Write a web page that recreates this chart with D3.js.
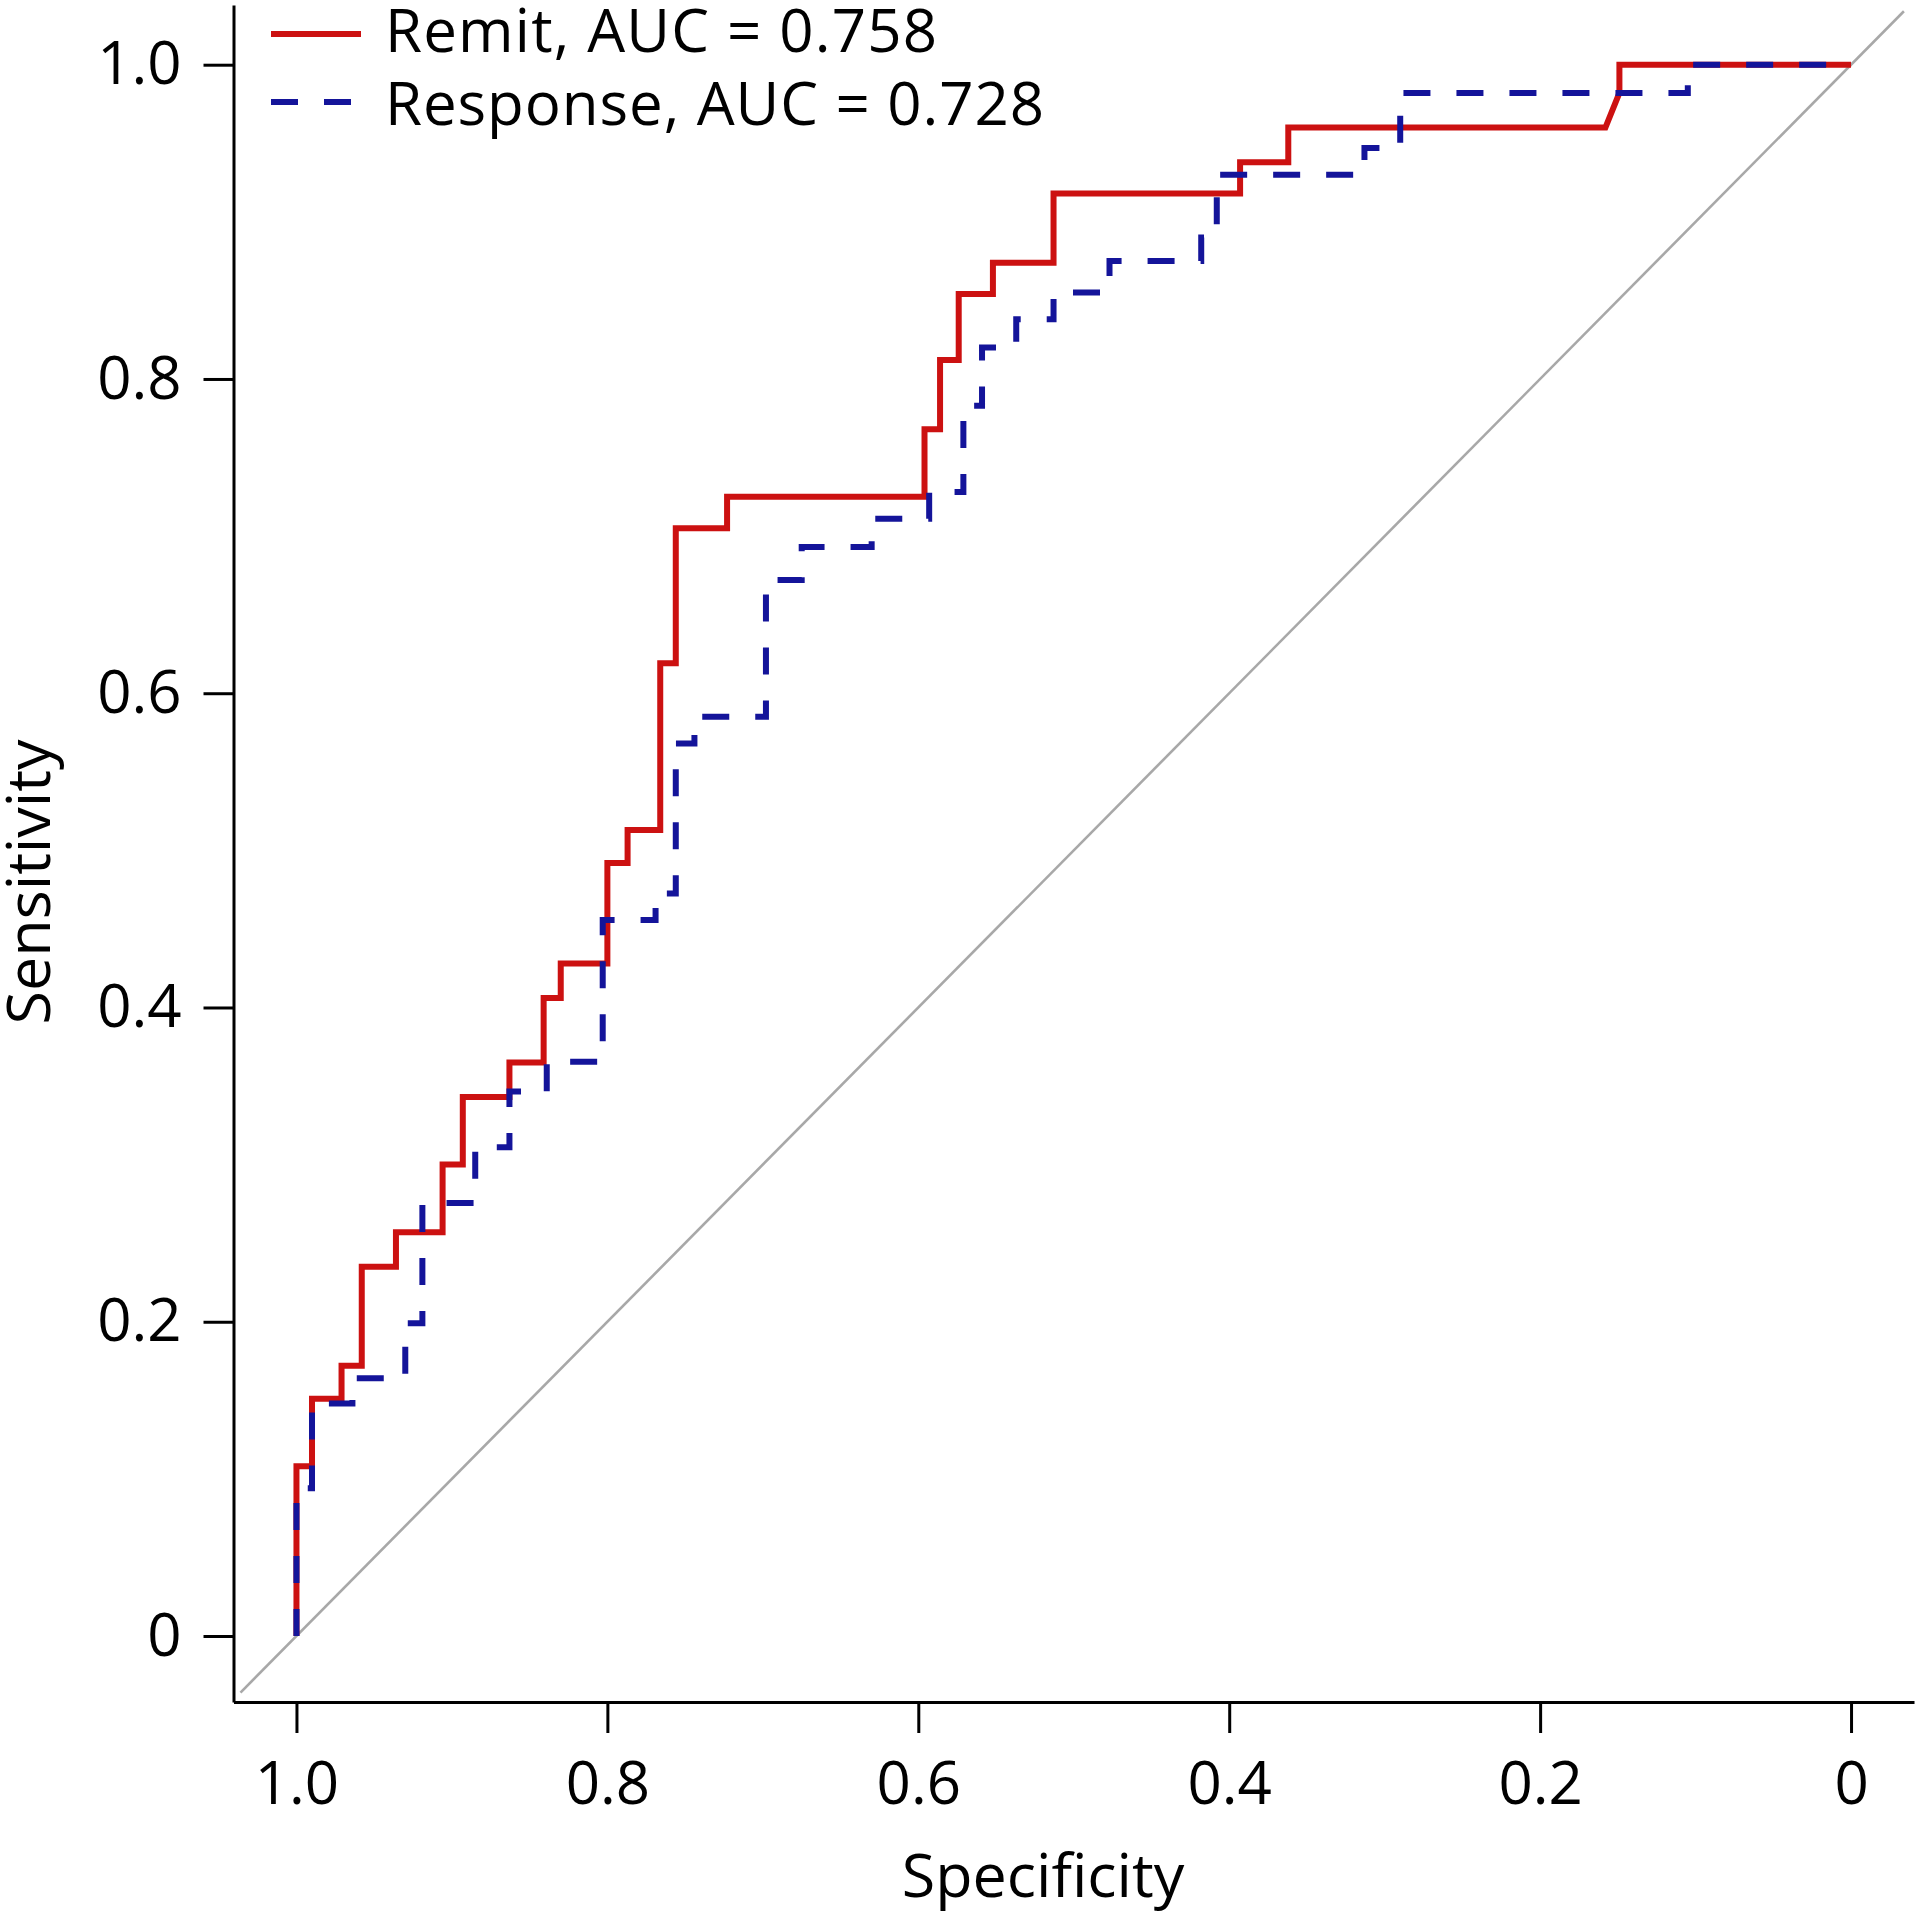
<!DOCTYPE html>
<html>
<head>
<meta charset="utf-8">
<script src="https://cdn.jsdelivr.net/npm/d3@7"></script>
<style>
  html, body { margin: 0; padding: 0; background: #fff; }
  svg { display: block; }
  text { font-family: "Open Sans", "Noto Sans", sans-serif; fill: #000; }
</style>
</head>
<body>
<svg id="chart" width="1920" height="1920"></svg>
<script>
// ---------- data (ROC vertices: specificity, sensitivity) ----------
const remitSpec = [1.000,1.000,0.990,0.990,0.971,0.971,0.958,0.958,0.936,0.936,0.906,0.906,0.893,0.893,0.863,0.863,0.841,0.841,0.830,0.830,0.800,0.800,0.787,0.787,0.766,0.766,0.756,0.756,0.723,0.723,0.596,0.596,0.586,0.586,0.574,0.574,0.552,0.552,0.513,0.513,0.393,0.393,0.362,0.362,0.158,0.149,0.149,0.000];
const remitSens = [0.000,0.108,0.108,0.151,0.151,0.172,0.172,0.235,0.235,0.257,0.257,0.300,0.300,0.343,0.343,0.365,0.365,0.406,0.406,0.428,0.428,0.492,0.492,0.513,0.513,0.619,0.619,0.705,0.705,0.725,0.725,0.768,0.768,0.812,0.812,0.854,0.854,0.874,0.874,0.918,0.918,0.938,0.938,0.960,0.960,0.982,1.000,1.000];

const respSpec = [1.000,1.000,0.990,0.990,0.964,0.964,0.930,0.930,0.919,0.919,0.885,0.885,0.863,0.863,0.839,0.839,0.803,0.803,0.769,0.769,0.756,0.756,0.744,0.744,0.698,0.698,0.675,0.675,0.630,0.630,0.593,0.593,0.571,0.571,0.559,0.559,0.537,0.537,0.513,0.513,0.477,0.477,0.418,0.418,0.408,0.408,0.313,0.313,0.290,0.290,0.105,0.105,0.000];
const respSens = [0.000,0.094,0.094,0.148,0.148,0.164,0.164,0.199,0.199,0.2755,0.2755,0.311,0.311,0.3465,0.3465,0.3655,0.3655,0.4556,0.4556,0.4726,0.4726,0.568,0.568,0.585,0.585,0.672,0.672,0.693,0.693,0.711,0.711,0.728,0.728,0.783,0.783,0.820,0.820,0.838,0.838,0.855,0.855,0.875,0.875,0.890,0.890,0.930,0.930,0.947,0.947,0.982,0.982,1.000,1.000];

const seriesNames = ["Remit", "Response"];
const seriesAUC = [0.758, 0.728];
const tickValues = [1.0, 0.8, 0.6, 0.4, 0.2, 0];
const tickLabels = ["1.0", "0.8", "0.6", "0.4", "0.2", "0"];
const xTitle = "Specificity";
const yTitle = "Sensitivity";

// ---------- layout ----------
const svg = d3.select("#chart");
svg.append("rect").attr("width",1920).attr("height",1920).attr("fill","#fff");

const plotL = 233.5, plotR = 1914, plotT = 5, plotB = 1702;
const x = d3.scaleLinear().domain([1.0405, -0.0405]).range([plotL, plotR]);
const y = d3.scaleLinear().domain([-0.042, 1.038]).range([plotB, plotT]);

const fontSize = 60;
const labelOf = d => tickLabels[tickValues.indexOf(d)];

// diagonal reference
svg.append("line")
  .attr("x1", x(1.036)).attr("y1", y(-0.036))
  .attr("x2", x(-0.034)).attr("y2", y(1.034))
  .attr("stroke", "#a8a8a8").attr("stroke-width", 2.6);

// axes
const xAxis = d3.axisBottom(x).tickValues(tickValues).tickFormat(labelOf)
  .tickSizeInner(31).tickSizeOuter(0).tickPadding(28);
const yAxis = d3.axisLeft(y).tickValues(tickValues).tickFormat(labelOf)
  .tickSizeInner(30).tickSizeOuter(0).tickPadding(22);

const gx = svg.append("g").attr("transform", `translate(0,${plotB})`).call(xAxis);
const gy = svg.append("g").attr("transform", `translate(${plotL},0)`).call(yAxis);
[gx, gy].forEach(g => {
  g.selectAll("path.domain").attr("stroke", "#000").attr("stroke-width", 3);
  g.selectAll(".tick line").attr("stroke", "#000").attr("stroke-width", 3);
  g.selectAll(".tick text").attr("font-size", fontSize)
    .attr("font-family", '"Open Sans", "Noto Sans", sans-serif').attr("fill", "#000");
});

// axis titles
svg.append("text").attr("x", 1043).attr("y", 1897)
  .attr("text-anchor", "middle").attr("font-size", 61).text(xTitle);
svg.append("text").attr("transform", "translate(50,882) rotate(-90)")
  .attr("text-anchor", "middle").attr("font-size", 61).text(yTitle);

// curves
const line = d3.line().x(d => x(d[0])).y(d => y(d[1]));
const remitPts = d3.zip(remitSpec, remitSens);
const respPts = d3.zip(respSpec, respSens);

const colors = ["#cc1111", "#14149a"];
const dashes = [null, "27,26"];

svg.append("path").datum(remitPts).attr("d", line)
  .attr("fill", "none").attr("stroke", colors[0]).attr("stroke-width", 6)
  .attr("stroke-linejoin", "miter");
svg.append("path").datum(respPts).attr("d", line)
  .attr("fill", "none").attr("stroke", colors[1]).attr("stroke-width", 6)
  .attr("stroke-dasharray", dashes[1]).attr("stroke-linejoin", "miter");

// legend
const legLineY = [34, 102];
const legBase = [52, 124.5];
const legWidth = [552, 659];
seriesNames.forEach((name, i) => {
  const g = svg.append("g");
  g.append("line").attr("x1", 271).attr("x2", 361).attr("y1", legLineY[i]).attr("y2", legLineY[i])
    .attr("stroke", colors[i]).attr("stroke-width", 6)
    .attr("stroke-dasharray", dashes[i]);
  g.append("text").attr("x", 385).attr("y", legBase[i])
    .attr("font-size", 60)
    .attr("textLength", legWidth[i]).attr("lengthAdjust", "spacing")
    .text(`${name}, AUC = ${seriesAUC[i].toFixed(3)}`);
});
</script>
</body>
</html>
